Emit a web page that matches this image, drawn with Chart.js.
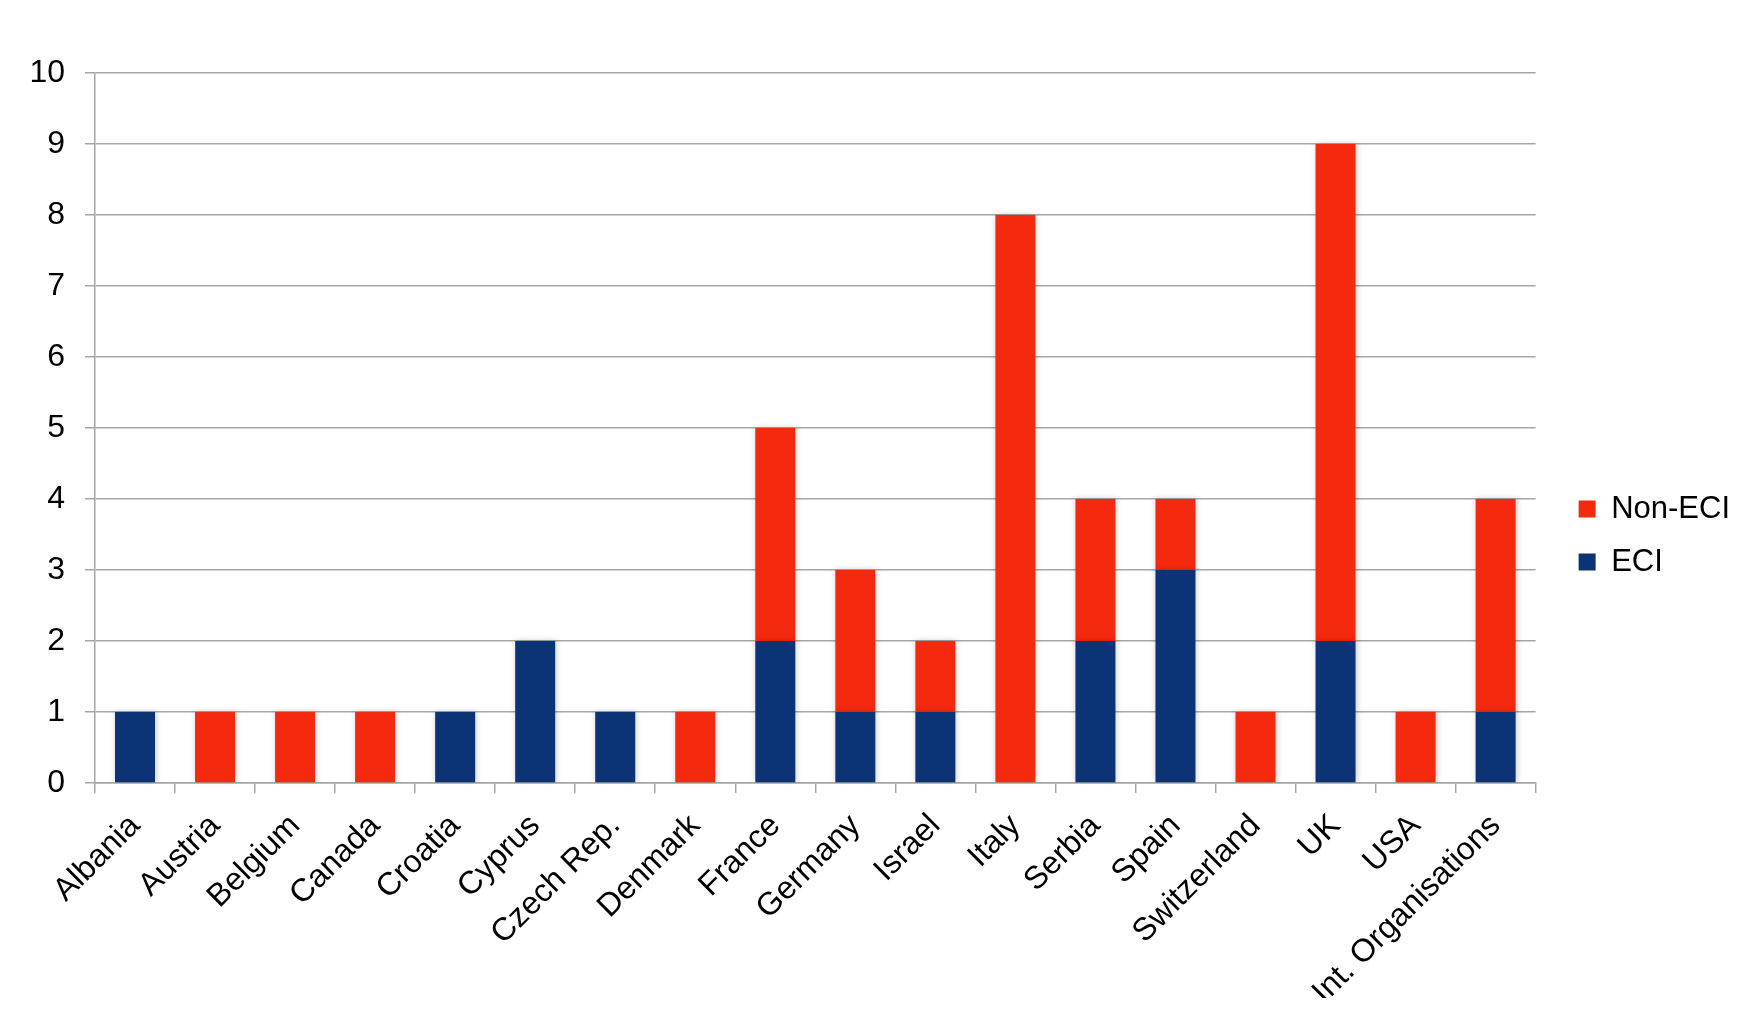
<!DOCTYPE html>
<html>
<head>
<meta charset="utf-8">
<script src="https://cdn.jsdelivr.net/npm/chart.js@4.4.1/dist/chart.umd.min.js"></script>
<style>
  html, body { margin: 0; padding: 0; background: #fff; }
  #wrap { width: 1754px; height: 1026px; }
</style>
</head>
<body>
<div id="wrap"><canvas id="chart" width="1754" height="1026"></canvas></div>
<script>
const countries = [
  "Albania", "Austria", "Belgium", "Canada", "Croatia", "Cyprus", "Czech Rep.",
  "Denmark", "France", "Germany", "Israel", "Italy", "Serbia", "Spain",
  "Switzerland", "UK", "USA", "Int. Organisations"
];
const eciValues =    [1, 0, 0, 0, 1, 2, 1, 0, 2, 1, 1, 0, 2, 3, 0, 2, 0, 1];
const nonEciValues = [0, 1, 1, 1, 0, 0, 0, 1, 3, 2, 1, 8, 2, 1, 1, 7, 1, 3];
const yTicks = [0, 1, 2, 3, 4, 5, 6, 7, 8, 9, 10];

const gridGrey = "#a6a6a6";
const fontFamily = "'Liberation Sans', Arial, sans-serif";

// soft shadow round the bars, like the original
const barShadow = {
  id: "barShadow",
  beforeDatasetsDraw(chart) {
    const ctx = chart.ctx;
    ctx.save();
    ctx.shadowColor = "rgba(0,0,0,0.22)";
    ctx.shadowBlur = 6;
    ctx.shadowOffsetX = 1;
    ctx.shadowOffsetY = 0;
  },
  afterDatasetsDraw(chart) {
    chart.ctx.restore();
  }
};

// push the legend a bit further away from the plot
const legendGap = {
  id: "legendGap",
  afterLayout(chart) {
    if (chart.legend) {
      const w = chart.legend.width;
      chart.legend.left = chart.chartArea.right + 21;
      chart.legend.right = chart.legend.left + w;
    }
  }
};

new Chart(document.getElementById("chart"), {
  type: "bar",
  plugins: [barShadow, legendGap],
  data: {
    labels: countries,
    datasets: [
      { label: "ECI", data: eciValues, backgroundColor: "#0b3476", borderWidth: 0 },
      { label: "Non-ECI", data: nonEciValues, backgroundColor: "#f5290e", borderWidth: 0 }
    ]
  },
  options: {
    responsive: false,
    devicePixelRatio: 1,
    animation: false,
    categoryPercentage: 1,
    barPercentage: 0.5,
    layout: { padding: { top: 73, right: 35, bottom: 28, left: 0 } },
    plugins: {
      tooltip: { enabled: false },
      legend: {
        position: "right",
        reverse: true,
        labels: {
          boxWidth: 17,
          boxHeight: 17,
          padding: 22,
          color: "#000",
          font: { family: fontFamily, size: 31 }
        }
      }
    },
    scales: {
      x: {
        stacked: true,
        offset: true,
        grid: {
          offset: true,
          drawOnChartArea: true,
          color: (c) => c.index === countries.length ? gridGrey : "rgba(0,0,0,0)",
          tickColor: gridGrey,
          tickLength: 10,
          lineWidth: 1.5
        },
        border: { color: gridGrey, width: 1.5 },
        ticks: {
          color: "#000",
          font: { family: fontFamily, size: 32 },
          minRotation: 45,
          maxRotation: 45,
          padding: 14,
          autoSkip: false
        },
        afterFit(scale) { scale.height = 1026 - 783 - 28; }
      },
      y: {
        stacked: true,
        min: 0,
        max: 10,
        afterBuildTicks(scale) { scale.ticks = yTicks.map(v => ({ value: v })); },
        grid: { color: gridGrey, tickColor: gridGrey, tickLength: 10, lineWidth: 1.5 },
        border: { color: gridGrey, width: 1.5 },
        ticks: {
          color: "#000",
          font: { family: fontFamily, size: 32 },
          padding: 20
        },
        afterFit(scale) { scale.width = 95; }
      }
    }
  }
});
</script>
</body>
</html>
